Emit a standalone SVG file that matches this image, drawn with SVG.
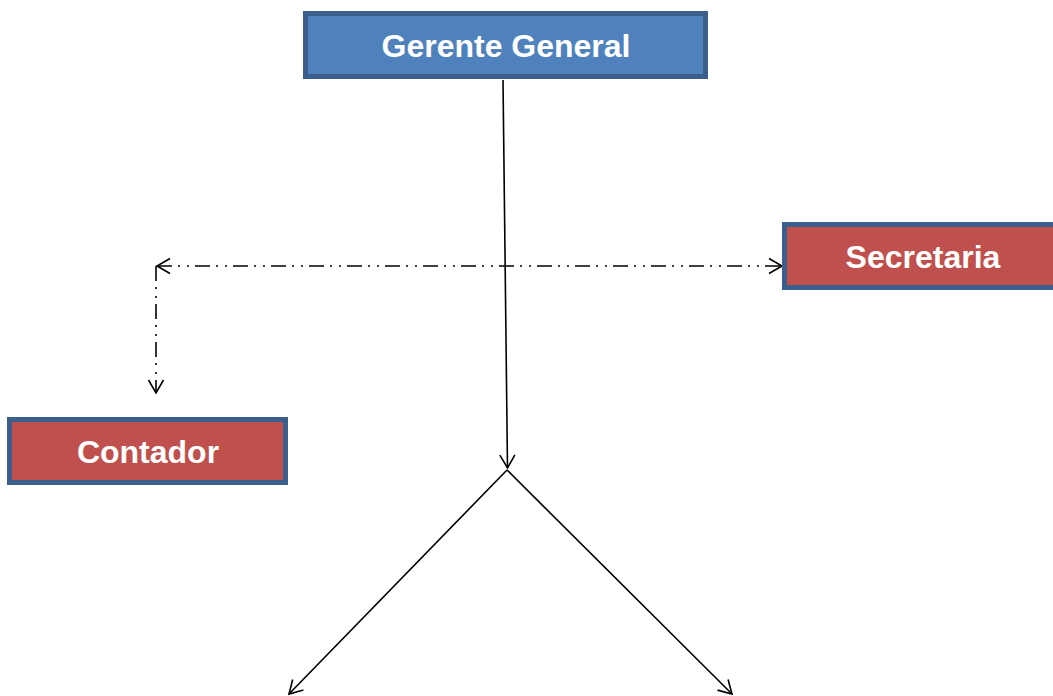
<svg xmlns="http://www.w3.org/2000/svg" width="1053" height="696" viewBox="0 0 1053 696">
<style>
.box{stroke:#3b5e8c;stroke-width:5}
.blue{fill:#4f81bd}
.red{fill:#c0504d}
.lbl{font-family:"Liberation Sans",Arial,sans-serif;font-weight:bold;font-size:32px;fill:#ffffff;text-anchor:middle}
.ln{fill:none;stroke:#000;stroke-width:1.6}
.dd{stroke-dasharray:15 6 2 7 2 6}
</style>
<defs>
<marker id="ah" viewBox="-14 -9 16 18" markerWidth="16" markerHeight="18" refX="0" refY="0" orient="auto" markerUnits="userSpaceOnUse">
<path d="M-13,-7.5 L0,0 L-13,7.5" fill="none" stroke="#000" stroke-width="1.6"/>
</marker>
<marker id="ahs" viewBox="-14 -9 16 18" markerWidth="16" markerHeight="18" refX="0" refY="0" orient="auto-start-reverse" markerUnits="userSpaceOnUse">
<path d="M-13,-7.5 L0,0 L-13,7.5" fill="none" stroke="#000" stroke-width="1.6"/>
</marker>
</defs>
<g id="connectors">
<line class="ln" x1="503" y1="80" x2="507.5" y2="468" marker-end="url(#ah)"/>
<line class="ln" x1="507" y1="470" x2="289" y2="694" marker-end="url(#ah)"/>
<line class="ln" x1="507" y1="470" x2="732" y2="694" marker-end="url(#ah)"/>
<line class="ln dd" x1="157" y1="266" x2="782" y2="266" marker-start="url(#ahs)" marker-end="url(#ahs)"/>
<line class="ln dd" x1="156" y1="266" x2="156" y2="393" marker-end="url(#ah)"/>
</g>
<g id="gerente">
<rect class="box blue" x="305.5" y="13.5" width="400" height="63"/>
<text class="lbl" x="506" y="57">Gerente General</text>
</g>
<g id="secretaria">
<rect class="box red" x="784.5" y="224.5" width="276" height="63"/>
<text class="lbl" x="923" y="268">Secretaria</text>
</g>
<g id="contador">
<rect class="box red" x="9.5" y="419.5" width="276" height="63"/>
<text class="lbl" x="148" y="463">Contador</text>
</g>
</svg>
